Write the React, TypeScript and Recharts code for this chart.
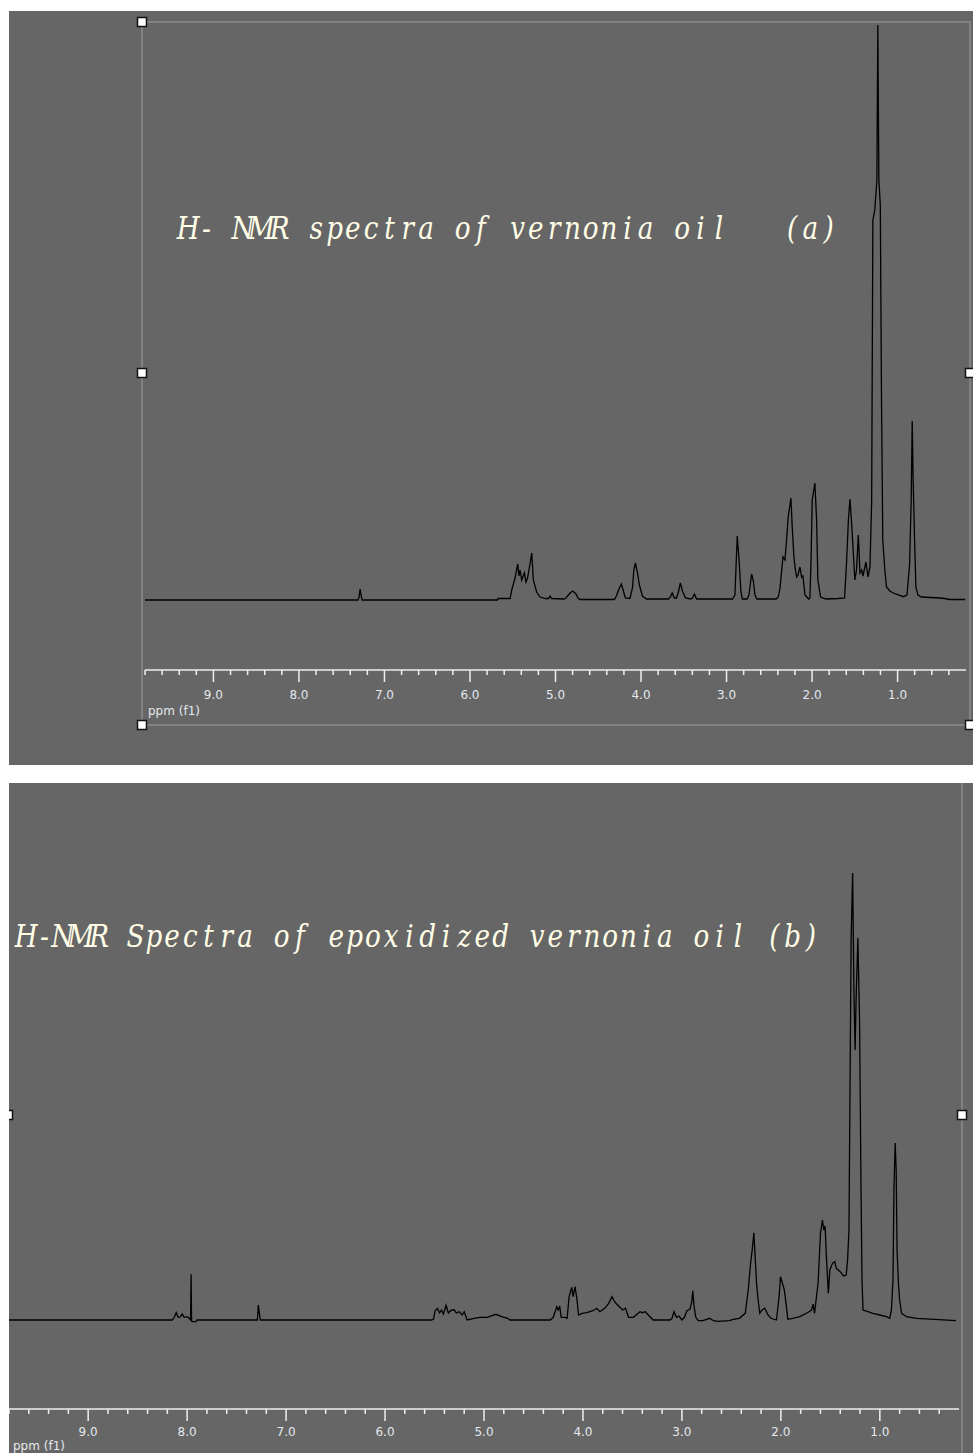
import { LineChart, Line, XAxis, YAxis, Label } from "recharts";

// ppm scale ticks, every 0.2 ppm; whole numbers get a long tick and a label
const ppmTicks = [
  9.8, 9.6, 9.4, 9.2, 9.0, 8.8, 8.6, 8.4, 8.2, 8.0, 7.8, 7.6, 7.4, 7.2, 7.0,
  6.8, 6.6, 6.4, 6.2, 6.0, 5.8, 5.6, 5.4, 5.2, 5.0, 4.8, 4.6, 4.4, 4.2, 4.0,
  3.8, 3.6, 3.4, 3.2, 3.0, 2.8, 2.6, 2.4, 2.2, 2.0, 1.8, 1.6, 1.4, 1.2, 1.0,
  0.8, 0.6, 0.4,
];

const titleA = "H- NMR spectra of vernonia oil   (a)";
const titleB = "H-NMR Spectra of epoxidized vernonia oil (b)";

// (a) vernonia oil
const ppmA = [
  9.8, 7.31, 7.297, 7.285, 7.272, 7.26, 5.68, 5.67, 5.53, 5.512, 5.473, 5.442,
  5.427, 5.415, 5.395, 5.364, 5.345, 5.327, 5.298, 5.278, 5.259, 5.22, 5.181,
  5.12, 5.08, 5.064, 5.045, 4.9, 4.877, 4.83, 4.799, 4.76, 4.737, 4.713, 4.31,
  4.288, 4.253, 4.23, 4.206, 4.183, 4.13, 4.1, 4.084, 4.066, 4.043, 4.019,
  3.984, 3.937, 3.68, 3.656, 3.636, 3.61, 3.585, 3.563, 3.54, 3.516, 3.48,
  3.42, 3.398, 3.375, 3.351, 2.93, 2.902, 2.875, 2.851, 2.832, 2.815, 2.76,
  2.738, 2.707, 2.688, 2.668, 2.645, 2.42, 2.395, 2.375, 2.34, 2.317, 2.298,
  2.279, 2.247, 2.232, 2.212, 2.195, 2.18, 2.165, 2.142, 2.122, 2.107, 2.083,
  2.04, 2.025, 2.012, 1.998, 1.967, 1.947, 1.932, 1.9, 1.838, 1.7, 1.62,
  1.597, 1.575, 1.557, 1.54, 1.526, 1.5, 1.48, 1.459, 1.44, 1.42, 1.405, 1.37,
  1.346, 1.323, 1.303, 1.289, 1.266, 1.242, 1.231, 1.219, 1.202, 1.188, 1.173,
  1.149, 1.13, 1.09, 1.051, 0.934, 0.89, 0.86, 0.841, 0.829, 0.818, 0.801,
  0.786, 0.762, 0.72, 0.507, 0.45, 0.39, 0.21,
];
const intA = [
  0, 0, 3, 11, 4, 0, 0, 1.5, 1.5, 10, 22, 36,
  24, 30, 20, 27, 18, 22, 36, 47, 20, 8, 3,
  1.5, 1.5, 4, 1.5, 1, 2, 7, 9, 6, 2, 0.5, 0.5,
  4, 12, 16, 9, 2, 1.5, 12, 30, 37, 28, 15,
  4, 1, 1, 3, 7, 2, 2, 8, 17, 9, 2,
  1, 2, 6, 1, 1, 5, 64, 37, 8, 1, 1,
  5, 26, 20, 5, 1, 1, 3, 12, 43, 40, 60,
  83, 102, 73, 43, 30, 23, 25, 33, 23, 24, 5,
  1, 2, 40, 100, 117, 80, 20, 3, 1, 1.5, 2,
  37, 80, 101, 80, 60, 20, 30, 65, 27, 30, 24, 38,
  23, 33, 100, 380, 390, 420, 575, 420, 395, 200, 60,
  30, 13, 9, 7, 3.3, 5, 35, 100, 179, 120, 60,
  13, 5, 3, 2, 1.5, 0.5, 0.5,
];

// (b) epoxidized vernonia oil
const ppmB = [
  9.8, 8.15, 8.13, 8.11, 8.09, 8.07, 8.05, 8.03, 8.0, 7.98, 7.965, 7.96,
  7.955, 7.95, 7.91, 7.9, 7.29, 7.28, 7.27, 7.26, 5.53, 5.51, 5.494, 5.47,
  5.45, 5.43, 5.41, 5.383, 5.36, 5.33, 5.3, 5.28, 5.25, 5.22, 5.2, 5.17, 5.1,
  5.04, 4.97, 4.88, 4.82, 4.76, 4.737, 4.33, 4.3, 4.265, 4.25, 4.235, 4.22,
  4.18, 4.16, 4.14, 4.114, 4.1, 4.08, 4.06, 4.045, 4.01, 3.96, 3.9, 3.86,
  3.83, 3.78, 3.74, 3.706, 3.68, 3.65, 3.6, 3.57, 3.54, 3.49, 3.424, 3.4,
  3.37, 3.33, 3.29, 3.12, 3.1, 3.08, 3.055, 3.03, 3.0, 2.975, 2.95, 2.92,
  2.9, 2.89, 2.877, 2.86, 2.835, 2.79, 2.75, 2.72, 2.68, 2.64, 2.52, 2.48,
  2.42, 2.36, 2.33, 2.306, 2.29, 2.273, 2.26, 2.246, 2.23, 2.213, 2.19, 2.163,
  2.13, 2.1, 2.045, 2.018, 2.004, 1.985, 1.965, 1.944, 1.93, 1.88, 1.81, 1.74,
  1.69, 1.674, 1.66, 1.624, 1.6, 1.58, 1.567, 1.553, 1.54, 1.52, 1.505, 1.478,
  1.455, 1.44, 1.4, 1.367, 1.34, 1.326, 1.312, 1.3, 1.29, 1.275, 1.262, 1.25,
  1.24, 1.222, 1.205, 1.19, 1.18, 1.17, 1.12, 1.069, 1.0, 0.934, 0.9, 0.883,
  0.867, 0.857, 0.845, 0.835, 0.826, 0.812, 0.8, 0.78, 0.73, 0.63, 0.45, 0.23,
];
const intB = [
  0, 0, 2.7, 7.3, 2.7, 3, 6, 2.7, 3.3, 1.7, 0, 45.7,
  0, -1.7, -1.7, 0, 0, 15, 6.7, 0, 0, 1, 9.3, 11.7,
  7, 10, 6, 14.7, 7, 10, 10, 7, 8.3, 5, 8.3, 0, 1.7,
  2.7, 2.7, 5.7, 3.3, 1.7, 0, 0, 2.7, 13.3, 10, 14, 2.7,
  2.7, 1.7, 23.3, 32.7, 23.3, 33.3, 20, 5, 6.7, 7.3, 9.3, 11.7,
  8.3, 11.7, 16.7, 23.3, 18.3, 15, 10, 11.7, 2.7, 2.7, 8.3, 7.3,
  8.3, 4, 0, 0, 1.7, 8.3, 2.7, 4, 0, 2.7, 9.3, 10.7,
  18.3, 29.3, 13.3, 2.7, -0.7, -0.7, 0.7, 1.7, -0.7, -1.3, -0.7, 0.7,
  1.7, 6.7, 30, 56.7, 70, 87.3, 63, 36.7, 20, 6.7, 10, 11.7,
  5, 1.7, 0, 23, 43.3, 37, 30, 13.3, 0.7, 1.7, 3.3, 6.7,
  10, 16, 6.7, 36.7, 86.7, 100, 90, 94, 63, 26.7, 50, 56.7,
  58.3, 51.7, 48.3, 44, 45, 60, 90, 250, 380, 447, 330, 270,
  320, 382, 300, 130, 40, 10, 8.3, 6.7, 5, 3.3, 1.7, 10,
  40, 133, 177, 150, 70, 36.7, 20, 6.7, 3.3, 1.7, 0.7, -0.7,
];

const dataA = ppmA.map((ppm, i) => ({ ppm, v: intA[i] }));
const dataB = ppmB.map((ppm, i) => ({ ppm, v: intB[i] }));

const PANEL = "#666666";
const AXIS = "#eeeeee";
const TICK_TEXT = "#e2e8ee";
const TITLE = "#fffde6";
const FRAME = "#8c8c8c";

const PpmTick = ({ x, y, payload, labelDy }: any) => {
  const v = payload.value;
  const major = Math.abs(v - Math.round(v)) < 0.01;
  return (
    <g>
      <line x1={x} x2={x} y1={y} y2={y + (major ? 12 : 5)} stroke={AXIS} strokeWidth={1.5} />
      {major && (
        <text
          x={x}
          y={y + labelDy}
          textAnchor="middle"
          fill={TICK_TEXT}
          fontSize={12}
          fontFamily="DejaVu Sans"
        >
          {v.toFixed(1)}
        </text>
      )}
    </g>
  );
};

const unitLabel = (dx: number, dy: number) => (props: any) => {
  const vb = props.viewBox || { x: 0, y: 0 };
  return (
    <text x={vb.x + dx} y={vb.y + dy} fill={TICK_TEXT} fontSize={12} fontFamily="DejaVu Sans">
      ppm (f1)
    </text>
  );
};

const Handle = ({ x, y }: { x: number; y: number }) => (
  <rect x={x - 4.5} y={y - 4.5} width={9} height={9} fill="#ffffff" stroke="#111111" strokeWidth={1.5} />
);

// fixed-pitch italic serif title: one cell per character, glyph centred in its cell,
// squeezed horizontally so wide letters keep inside their cells
const MonoTitle = ({ text, x, y, cell }: any) => {
  const sx = 0.82;
  const xs = text.split("").map((_: string, i: number) => ((i + 0.5) * cell) / sx);
  return (
    <g transform={`translate(${x} ${y}) scale(${sx} 1)`}>
      <text
        x={xs.join(" ")}
        y={0}
        xmlSpace="preserve"
        textAnchor="middle"
        fill={TITLE}
        fontFamily="'DejaVu Serif', serif"
        fontStyle="italic"
        fontSize={32}
        style={{ whiteSpace: "pre" }}
      >
        {text}
      </text>
    </g>
  );
};

const Spectrum = ({ data, width, height, margin, domainY, axisHeight, labelDy, unitDx, unitDy }: any) => (
  <LineChart width={width} height={height} data={data} margin={margin}>
    <XAxis
      dataKey="ppm"
      type="number"
      domain={[0.2, 9.8]}
      reversed
      allowDataOverflow
      ticks={ppmTicks}
      interval={0}
      tickLine={false}
      tickSize={0}
      tickMargin={0}
      height={axisHeight}
      axisLine={{ stroke: AXIS, strokeWidth: 1.5 }}
      tick={(p: any) => <PpmTick {...p} labelDy={labelDy} />}
    >
      <Label content={unitLabel(unitDx, unitDy)} />
    </XAxis>
    <YAxis hide type="number" domain={domainY} allowDataOverflow />
    <Line
      type="linear"
      dataKey="v"
      stroke="#000000"
      strokeWidth={1.3}
      dot={false}
      isAnimationActive={false}
    />
  </LineChart>
);

const App = () => {
  return (
    <div>
      {/* panel (a) */}
      <div style={{ position: "absolute", left: 9, top: 11, width: 964, height: 754, background: PANEL }}>
        <Spectrum
          data={dataA}
          width={964}
          height={754}
          margin={{ top: 0, right: 7, bottom: 55, left: 136 }}
          domainY={[-70, 589]}
          axisHeight={40}
          labelDy={29}
          unitDx={3}
          unitDy={45}
        />
        <svg width={964} height={754} style={{ position: "absolute", left: 0, top: 0, pointerEvents: "none" }}>
          <rect x={133} y={11} width={828} height={703} fill="none" stroke={FRAME} strokeWidth={1.5} />
          <Handle x={133} y={11} />
          <Handle x={133} y={362} />
          <Handle x={133} y={714} />
          <Handle x={961} y={362} />
          <Handle x={961} y={714} />
          <MonoTitle text={titleA} x={170} y={228} cell={18.3} />
        </svg>
      </div>

      {/* panel (b) */}
      <div style={{ position: "absolute", left: 9, top: 783, width: 964, height: 670, background: PANEL }}>
        <Spectrum
          data={dataB}
          width={964}
          height={670}
          margin={{ top: 0, right: 14, bottom: 0, left: 0 }}
          domainY={[-89, 537]}
          axisHeight={44}
          labelDy={27}
          unitDx={4}
          unitDy={41}
        />
        <svg width={964} height={670} style={{ position: "absolute", left: 0, top: 0, pointerEvents: "none" }}>
          <line x1={953} x2={953} y1={0} y2={670} stroke={FRAME} strokeWidth={1.5} />
          <Handle x={-1} y={332} />
          <Handle x={953} y={332} />
          <MonoTitle text={titleB} x={8} y={164} cell={18.25} />
        </svg>
      </div>
    </div>
  );
};

export default App;
